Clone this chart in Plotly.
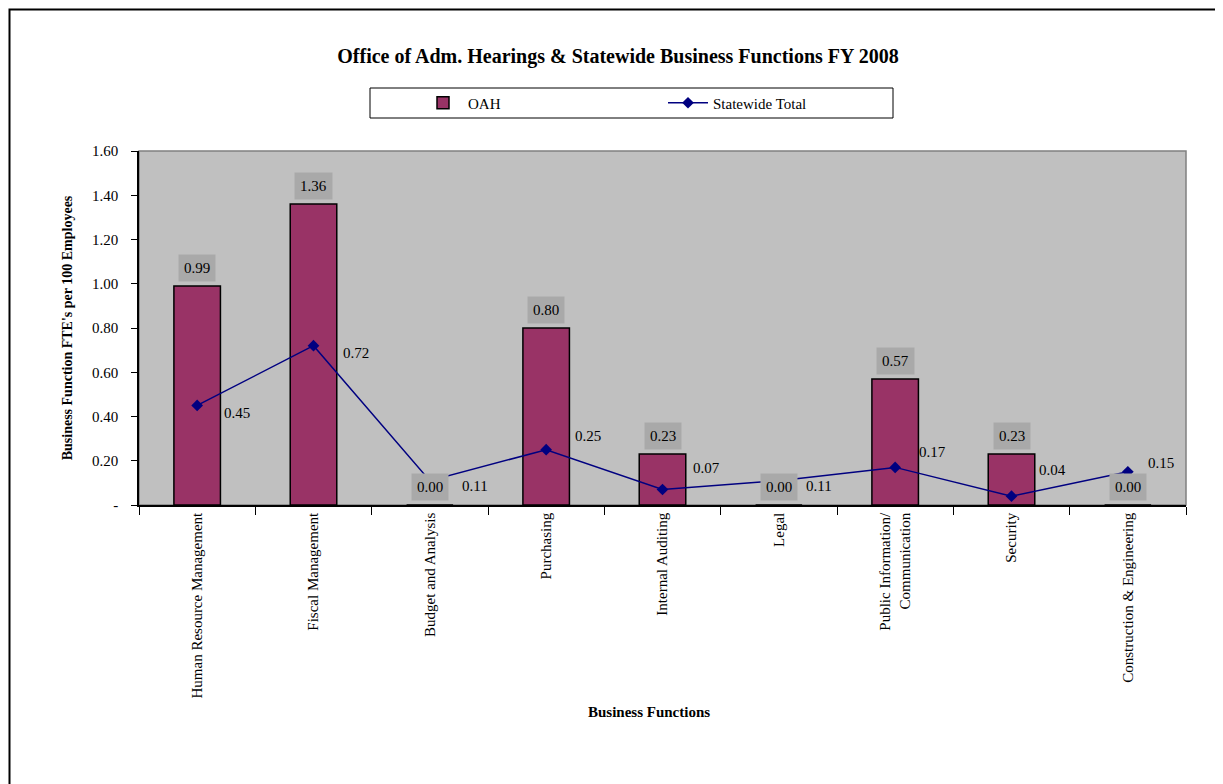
import plotly.graph_objects as go

# data
categories = ["Human Resource Management", "Fiscal Management", "Budget and Analysis",
              "Purchasing", "Internal Auditing", "Legal",
              "Public Information/<br>Communication", "Security", "Construction & Engineering"]
oah = [0.99, 1.36, 0.00, 0.80, 0.23, 0.00, 0.57, 0.23, 0.00]
statewide = [0.45, 0.72, 0.11, 0.25, 0.07, 0.11, 0.17, 0.04, 0.15]
y_ticks = [0, 0.2, 0.4, 0.6, 0.8, 1.0, 1.2, 1.4, 1.6]
y_tick_text = ["-", "0.20", "0.40", "0.60", "0.80", "1.00", "1.20", "1.40", "1.60"]

# label offsets for the line labels (style only)
line_label_dy = [-8, -7, -5, 14, 22, -5, 15, 26, 9]
line_label_dx = [25, 27, 30, 27, 28, 25, 22, 25, 18]

SERIF = "Times New Roman, Liberation Serif, serif"

# page has an 8px body margin, so work in page pixels and shift
OFF = 8
W, H = 1223, 784
L, T = 139 - OFF, 151 - OFF
pw, ph = 1047, 354
R, B = W - L - pw, H - T - ph


def px(x):
    return (x - OFF - L) / pw


def py(y):
    return 1 - (y - OFF - T) / ph


fig = go.Figure()
fig.add_trace(go.Bar(x=categories, y=oah, name="OAH", width=0.4,
                     marker=dict(color="#993366", line=dict(color="black", width=1.5))))
fig.add_trace(go.Scatter(x=categories, y=statewide, name="Statewide Total", mode="lines+markers",
                         line=dict(color="#000080", width=1.5),
                         marker=dict(symbol="diamond", size=9, color="#000080")))

annotations = []
for c, v in zip(categories, oah):
    annotations.append(dict(x=c, y=v, xref="x", yref="y", text=f"{v:.2f}", showarrow=False,
                            yanchor="bottom", yshift=4, bgcolor="#a9a9a9", borderpad=5,
                            font=dict(family=SERIF, size=15, color="black")))
for c, v, dx, dy in zip(categories, statewide, line_label_dx, line_label_dy):
    annotations.append(dict(x=c, y=v, xref="x", yref="y", text=f"{v:.2f}", showarrow=False,
                            xanchor="left", yanchor="middle", xshift=dx, yshift=dy,
                            font=dict(family=SERIF, size=15, color="black")))
annotations.append(dict(x=px(649), y=py(712), xref="paper", yref="paper",
                        text="<b>Business Functions</b>", showarrow=False, yanchor="middle",
                        font=dict(family=SERIF, size=15, color="black")))

shapes = [
    # plot area border
    dict(type="rect", xref="paper", yref="paper", x0=0, x1=1, y0=0, y1=1,
         line=dict(color="#808080", width=1.5), layer="below"),
    # legend box
    dict(type="rect", xref="paper", yref="paper", x0=px(370), x1=px(893), y0=py(118), y1=py(88),
         line=dict(color="black", width=1), fillcolor="white"),
    # outer frame
    dict(type="rect", xref="paper", yref="paper", x0=px(9.5), x1=px(1250), y0=py(810), y1=py(9.5),
         line=dict(color="black", width=2)),
]

fig.update_layout(
    width=W, height=H,
    margin=dict(l=L, r=R, t=T, b=B, autoexpand=False),
    paper_bgcolor="white", plot_bgcolor="#C0C0C0",
    font=dict(family=SERIF, size=15, color="black"),
    title=dict(text="<b>Office of Adm. Hearings & Statewide Business Functions FY 2008</b>",
               x=(618 - OFF) / W, xanchor="center", y=1 - (56 - OFF) / H, yanchor="middle",
               font=dict(family=SERIF, size=20, color="black")),
    showlegend=True,
    legend=dict(orientation="h", x=px(418), xanchor="left", y=py(103), yanchor="middle",
                entrywidth=190, entrywidthmode="pixels", bgcolor="rgba(0,0,0,0)",
                font=dict(family=SERIF, size=15, color="black"), itemwidth=40),
    annotations=annotations,
    shapes=shapes,
)
fig.update_xaxes(showline=True, linecolor="black", linewidth=1.5, ticks="outside", ticklen=8,
                 tickcolor="black", tickson="boundaries", tickangle=-90,
                 tickfont=dict(family=SERIF, size=15), showgrid=False, zeroline=False)
fig.update_yaxes(range=[0, 1.6], tickvals=y_ticks, ticktext=y_tick_text, showline=True,
                 linecolor="black", linewidth=1.5, ticks="outside", ticklen=6, tickcolor="black",
                 ticklabelstandoff=10,
                 showgrid=False, zeroline=False, tickfont=dict(family=SERIF, size=15),
                 title=dict(text="<b>Business Function FTE's per 100 Employees</b>",
                            font=dict(family=SERIF, size=14), standoff=16))

fig.write_html("out.html")
